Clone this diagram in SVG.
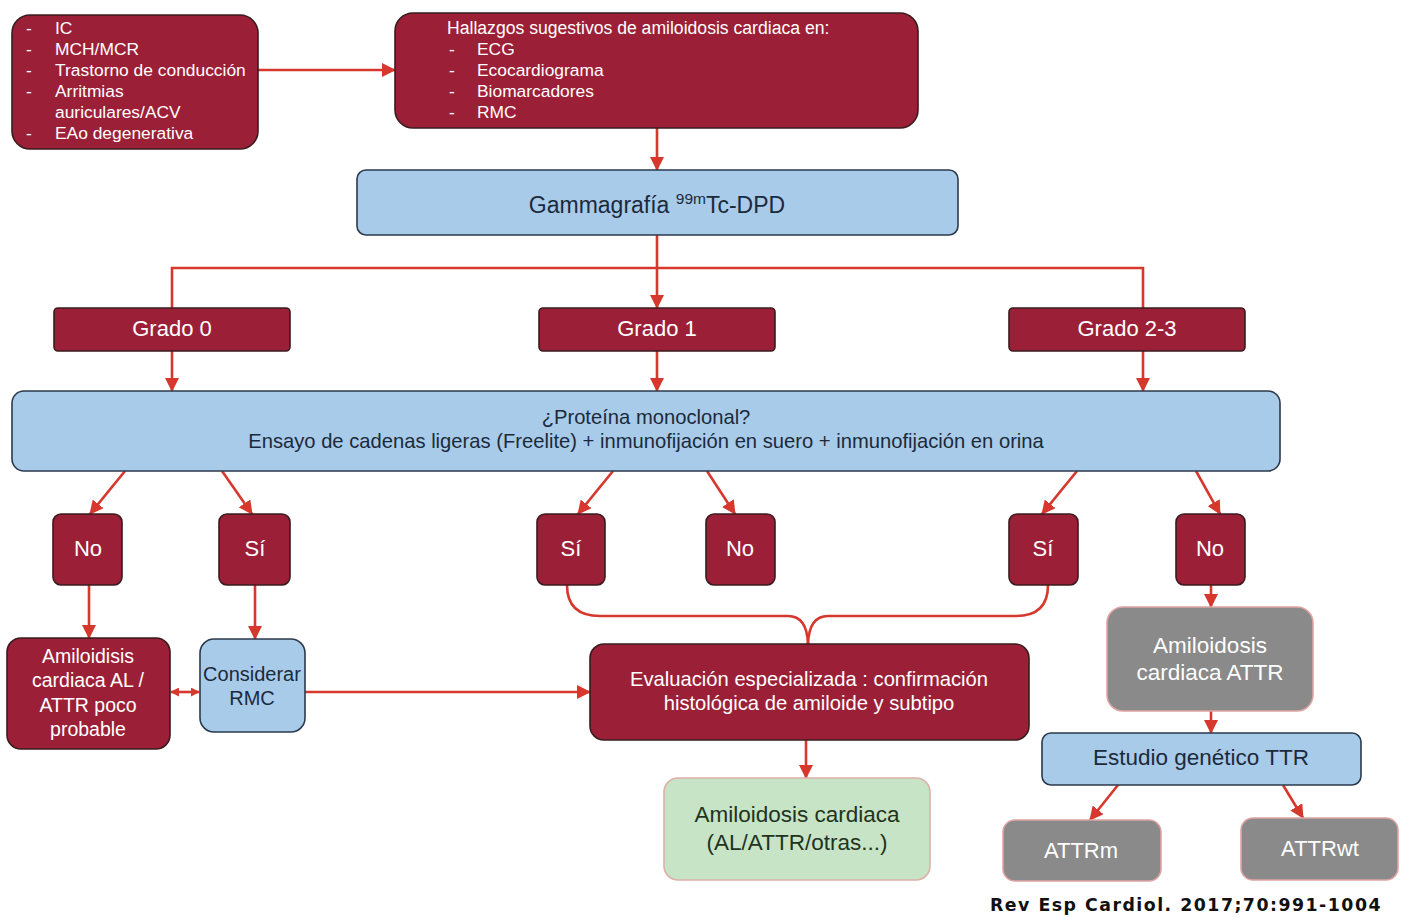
<svg xmlns="http://www.w3.org/2000/svg" width="1407" height="918" viewBox="0 0 1407 918">
<defs>
<style>
.red{fill:#9c1f38;stroke:#3a1c1e;stroke-width:1.6}
.blue{fill:#a9cbea;stroke:#2b3a4c;stroke-width:1.6}
.gray{fill:#8a8a8a;stroke:#e0a4a4;stroke-width:1.6}
.green{fill:#c8e4c6;stroke:#ddb0a8;stroke-width:1.6}
text{font-family:"Liberation Sans",Arial,Helvetica,sans-serif}
.w{fill:#ffffff}
.d{fill:#1b2a3a}
.g{fill:#1f3320}
.c{text-anchor:middle}
.s17{font-size:17.4px}
.s19{font-size:20.2px}
.s20{font-size:20.2px}
.s22{font-size:22px}
.con path,.con line{fill:none;stroke:#d6382d;stroke-width:2.6}
</style>
<marker id="ah" viewBox="0 0 14 14" refX="13" refY="7" markerWidth="14" markerHeight="14" markerUnits="userSpaceOnUse" orient="auto">
<path d="M0,0 L14,7 L0,14 z" fill="#d6382d"/>
</marker>
<marker id="ahs" viewBox="0 0 10 10" refX="9" refY="5" markerWidth="9" markerHeight="9" markerUnits="userSpaceOnUse" orient="auto-start-reverse">
<path d="M0,0 L10,5 L0,10 z" fill="#d6382d"/>
</marker>
</defs>
<rect width="1407" height="918" fill="#ffffff"/>

<g class="con">
<line x1="258" y1="70" x2="395" y2="70" marker-end="url(#ah)"/>
<line x1="657" y1="128" x2="657" y2="170" marker-end="url(#ah)"/>
<line x1="657" y1="235" x2="657" y2="308" marker-end="url(#ah)"/>
<path d="M172,308 V268 H1143 V308"/>
<line x1="172" y1="351" x2="172" y2="391" marker-end="url(#ah)"/>
<line x1="657" y1="351" x2="657" y2="391" marker-end="url(#ah)"/>
<line x1="1143" y1="351" x2="1143" y2="391" marker-end="url(#ah)"/>
<line x1="125" y1="471" x2="90" y2="514" marker-end="url(#ah)"/>
<line x1="222" y1="471" x2="252" y2="514" marker-end="url(#ah)"/>
<line x1="613" y1="471" x2="578" y2="514" marker-end="url(#ah)"/>
<line x1="707" y1="471" x2="735" y2="514" marker-end="url(#ah)"/>
<line x1="1077" y1="471" x2="1042" y2="514" marker-end="url(#ah)"/>
<line x1="1196" y1="471" x2="1220" y2="514" marker-end="url(#ah)"/>
<line x1="89" y1="585" x2="89" y2="638" marker-end="url(#ah)"/>
<line x1="255" y1="585" x2="255" y2="639" marker-end="url(#ah)"/>
<line x1="171" y1="692" x2="199" y2="692" marker-start="url(#ahs)" marker-end="url(#ahs)"/>
<line x1="305" y1="692" x2="590" y2="692" marker-end="url(#ah)"/>
<path d="M567,585 Q567,616 600,616 H788 Q807,616 808,644"/>
<path d="M1048,585 Q1048,616 1016,616 H828 Q809,616 808,644"/>
<line x1="806" y1="740" x2="806" y2="778" marker-end="url(#ah)"/>
<line x1="1211" y1="585" x2="1211" y2="607" marker-end="url(#ah)"/>
<line x1="1211" y1="711" x2="1211" y2="733" marker-end="url(#ah)"/>
<line x1="1118" y1="785" x2="1090" y2="820" marker-end="url(#ah)"/>
<line x1="1283" y1="785" x2="1303" y2="818" marker-end="url(#ah)"/>
</g>

<g id="sintomas">
<rect class="red" x="12" y="15" width="246" height="134" rx="18"/>
<g class="w s17">
<text x="26" y="34">-</text><text x="55" y="34">IC</text>
<text x="26" y="55">-</text><text x="55" y="55">MCH/MCR</text>
<text x="26" y="76">-</text><text x="55" y="76">Trastorno de conducción</text>
<text x="26" y="97">-</text><text x="55" y="97">Arritmias</text>
<text x="55" y="118">auriculares/ACV</text>
<text x="26" y="139">-</text><text x="55" y="139">EAo degenerativa</text>
</g>
</g>

<g id="hallazgos">
<rect class="red" x="395" y="13" width="523" height="115" rx="18"/>
<g class="w s17">
<text x="447" y="34" style="font-size:17.6px">Hallazgos sugestivos de amiloidosis cardiaca en:</text>
<text x="449" y="55">-</text><text x="477" y="55">ECG</text>
<text x="449" y="76">-</text><text x="477" y="76">Ecocardiograma</text>
<text x="449" y="97">-</text><text x="477" y="97">Biomarcadores</text>
<text x="449" y="118">-</text><text x="477" y="118">RMC</text>
</g>
</g>

<g id="gammagrafia">
<rect class="blue" x="357" y="170" width="601" height="65" rx="9"/>
<text class="d c" x="657" y="213" style="font-size:23px">Gammagrafía <tspan style="font-size:15.5px" dy="-9">99m</tspan><tspan dy="9">Tc-DPD</tspan></text>
</g>

<g id="grado0">
<rect class="red" x="54" y="308" width="236" height="43" rx="4"/>
<text class="w c s22" x="172" y="336">Grado 0</text>
</g>
<g id="grado1">
<rect class="red" x="539" y="308" width="236" height="43" rx="4"/>
<text class="w c s22" x="657" y="336">Grado 1</text>
</g>
<g id="grado23">
<rect class="red" x="1009" y="308" width="236" height="43" rx="4"/>
<text class="w c s22" x="1127" y="336">Grado 2-3</text>
</g>

<g id="proteina">
<rect class="blue" x="12" y="391" width="1268" height="80" rx="12"/>
<text class="d c s19" x="646" y="424">¿Proteína monoclonal?</text>
<text class="d c s19" x="646" y="448">Ensayo de cadenas ligeras (Freelite) + inmunofijación en suero + inmunofijación en orina</text>
</g>

<g id="no1">
<rect class="red" x="53" y="514" width="69" height="71" rx="8"/>
<text class="w c s22" x="88" y="556">No</text>
</g>
<g id="si1">
<rect class="red" x="219" y="514" width="71" height="71" rx="8"/>
<text class="w c s22" x="255" y="556">Sí</text>
</g>
<g id="si2">
<rect class="red" x="537" y="514" width="68" height="71" rx="8"/>
<text class="w c s22" x="571" y="556">Sí</text>
</g>
<g id="no2">
<rect class="red" x="706" y="514" width="69" height="71" rx="8"/>
<text class="w c s22" x="740" y="556">No</text>
</g>
<g id="si3">
<rect class="red" x="1009" y="514" width="69" height="71" rx="8"/>
<text class="w c s22" x="1043" y="556">Sí</text>
</g>
<g id="no3">
<rect class="red" x="1176" y="514" width="69" height="71" rx="8"/>
<text class="w c s22" x="1210" y="556">No</text>
</g>

<g id="amiloidisis">
<rect class="red" x="7" y="638" width="163" height="111" rx="14"/>
<g class="w c" style="font-size:19.5px">
<text x="88" y="663">Amiloidisis</text>
<text x="88" y="687">cardiaca AL /</text>
<text x="88" y="712">ATTR poco</text>
<text x="88" y="736">probable</text>
</g>
</g>

<g id="considerar">
<rect class="blue" x="200" y="639" width="105" height="93" rx="14"/>
<text class="d c" x="252" y="681" style="font-size:20px">Considerar</text>
<text class="d c" x="252" y="705" style="font-size:20px">RMC</text>
</g>

<g id="evaluacion">
<rect class="red" x="590" y="644" width="439" height="96" rx="14"/>
<text class="w c s20" x="809" y="686">Evaluación especializada : confirmación</text>
<text class="w c s20" x="809" y="710">histológica de amiloide y subtipo</text>
</g>

<g id="amiloidosis-cardiaca">
<rect class="green" x="664" y="778" width="266" height="102" rx="14"/>
<text class="g c" x="797" y="822" style="font-size:22.5px">Amiloidosis cardiaca</text>
<text class="g c" x="797" y="850" style="font-size:22.5px">(AL/ATTR/otras...)</text>
</g>

<g id="attr">
<rect class="gray" x="1107" y="607" width="206" height="104" rx="16"/>
<text class="w c" x="1210" y="653" style="font-size:22.5px">Amiloidosis</text>
<text class="w c" x="1210" y="680" style="font-size:22.5px">cardiaca ATTR</text>
</g>

<g id="estudio">
<rect class="blue" x="1042" y="733" width="319" height="52" rx="9"/>
<text class="d c" x="1201" y="765" style="font-size:22.5px">Estudio genético TTR</text>
</g>

<g id="attrm">
<rect class="gray" x="1003" y="820" width="158" height="61" rx="12"/>
<text class="w c s22" x="1081" y="858">ATTRm</text>
</g>
<g id="attrwt">
<rect class="gray" x="1241" y="818" width="157" height="62" rx="12"/>
<text class="w c s22" x="1320" y="856">ATTRwt</text>
</g>

<text x="990" y="911" textLength="392" lengthAdjust="spacingAndGlyphs" style="font-family:'DejaVu Sans',sans-serif;font-weight:bold;font-size:17.5px;letter-spacing:1.5px;fill:#111">Rev Esp Cardiol. 2017;70:991-1004</text>
</svg>
